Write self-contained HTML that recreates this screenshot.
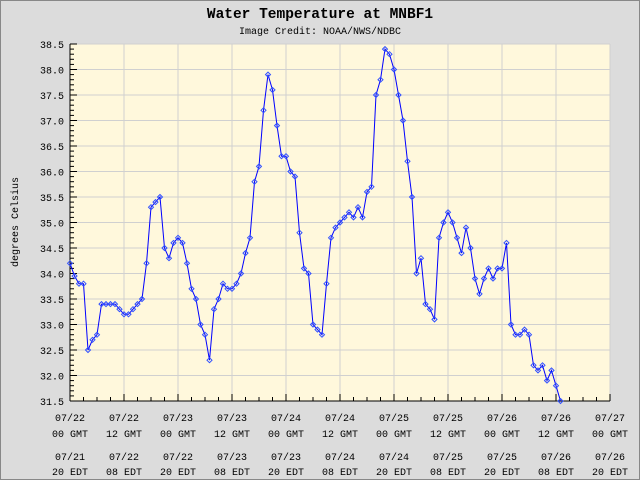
<!DOCTYPE html>
<html><head><meta charset="utf-8"><style>
body{margin:0;background:#dcdcdc}
svg{display:block}
text{font-family:"Liberation Mono","DejaVu Sans Mono",monospace;font-size:10px;fill:#000}
</style></head><body>
<svg id="s" width="640" height="480" xmlns="http://www.w3.org/2000/svg">
<rect x="0.5" y="0.5" width="639" height="479" fill="#dcdcdc" stroke="#888"/>
<rect x="70" y="44" width="540" height="357" fill="#fff8dc"/>
<g id="g"></g>
<text x="320" y="18" text-anchor="middle" style="font-size:14.5px;font-weight:bold">Water Temperature at MNBF1</text>
<text x="320" y="34" text-anchor="middle" style="font-size:10px">Image Credit: NOAA/NWS/NDBC</text>
<text transform="translate(18,222) rotate(-90)" text-anchor="middle" style="font-size:10px">degrees Celsius</text>
</svg>
<script>
var g=document.getElementById('g'),NS='http://www.w3.org/2000/svg';
function el(t,a,txt){var e=document.createElementNS(NS,t);for(var k in a)e.setAttribute(k,a[k]);if(txt)e.textContent=txt;g.appendChild(e);return e;}
function Y(v){return 44+(38.5-v)*51;}
for(var i=0;i<=14;i++){var v=31.5+i*0.5,y=Y(v);el('line',{x1:70,x2:610,y1:y,y2:y,stroke:'#d0d0d0'});el('text',{x:64,y:y+4,'text-anchor':'end'},v.toFixed(1));}
for(var i=0;i<=10;i++){var x=70+i*54;el('line',{x1:x,x2:x,y1:44,y2:401,stroke:'#d0d0d0'});}
for(var i=0;i<=70;i++){var y=Y(31.5+i*0.1);el('line',{x1:70,x2:i%5?74:77,y1:y,y2:y,stroke:'#000'});}
for(var i=0;i<=40;i++){var x=70+i*13.5;el('line',{x1:x,x2:x,y1:401,y2:i%4?397:394,stroke:'#000'});}
el('line',{x1:70,x2:70,y1:44,y2:401,stroke:'#000'});el('line',{x1:70,x2:610,y1:401,y2:401,stroke:'#000'});
var gl=[['07/22','00 GMT','07/21','20 EDT'],['07/22','12 GMT','07/22','08 EDT'],['07/23','00 GMT','07/22','20 EDT'],['07/23','12 GMT','07/23','08 EDT'],['07/24','00 GMT','07/23','20 EDT'],['07/24','12 GMT','07/24','08 EDT'],['07/25','00 GMT','07/24','20 EDT'],['07/25','12 GMT','07/25','08 EDT'],['07/26','00 GMT','07/25','20 EDT'],['07/26','12 GMT','07/26','08 EDT'],['07/27','00 GMT','07/26','20 EDT']];
gl.forEach(function(l,i){var x=70+i*54;[421,437,460,475].forEach(function(y,j){el('text',{x:x,y:y,'text-anchor':'middle'},l[j]);});});
var d=[34.2,33.95,33.8,33.8,32.5,32.7,32.8,33.4,33.4,33.4,33.4,33.3,33.2,33.2,33.3,33.4,33.5,34.2,35.3,35.4,35.5,34.5,34.3,34.6,34.7,34.6,34.2,33.7,33.5,33.0,32.8,32.3,33.3,33.5,33.8,33.7,33.7,33.8,34.0,34.4,34.7,35.8,36.1,37.2,37.9,37.6,36.9,36.3,36.3,36.0,35.9,34.8,34.1,34.0,33.0,32.9,32.8,33.8,34.7,34.9,35.0,35.1,35.2,35.1,35.3,35.1,35.6,35.7,37.5,37.8,38.4,38.3,38.0,37.5,37.0,36.2,35.5,34.0,34.3,33.4,33.3,33.1,34.7,35.0,35.2,35.0,34.7,34.4,34.9,34.5,33.9,33.6,33.9,34.1,33.9,34.1,34.1,34.6,33.0,32.8,32.8,32.9,32.8,32.2,32.1,32.2,31.9,32.1,31.8,31.5];
var pts=d.map(function(v,i){return [70+i*4.5,Y(v)];});
el('polyline',{points:pts.map(function(p){return p.join(',')}).join(' '),fill:'none',stroke:'#0000ff','stroke-width':1});
pts.forEach(function(p){el('path',{d:'M'+(p[0]-2.5)+' '+p[1]+'L'+p[0]+' '+(p[1]-2.5)+'L'+(p[0]+2.5)+' '+p[1]+'L'+p[0]+' '+(p[1]+2.5)+'Z',fill:'none',stroke:'#3050ff','stroke-width':1});});
</script>
</body></html>
